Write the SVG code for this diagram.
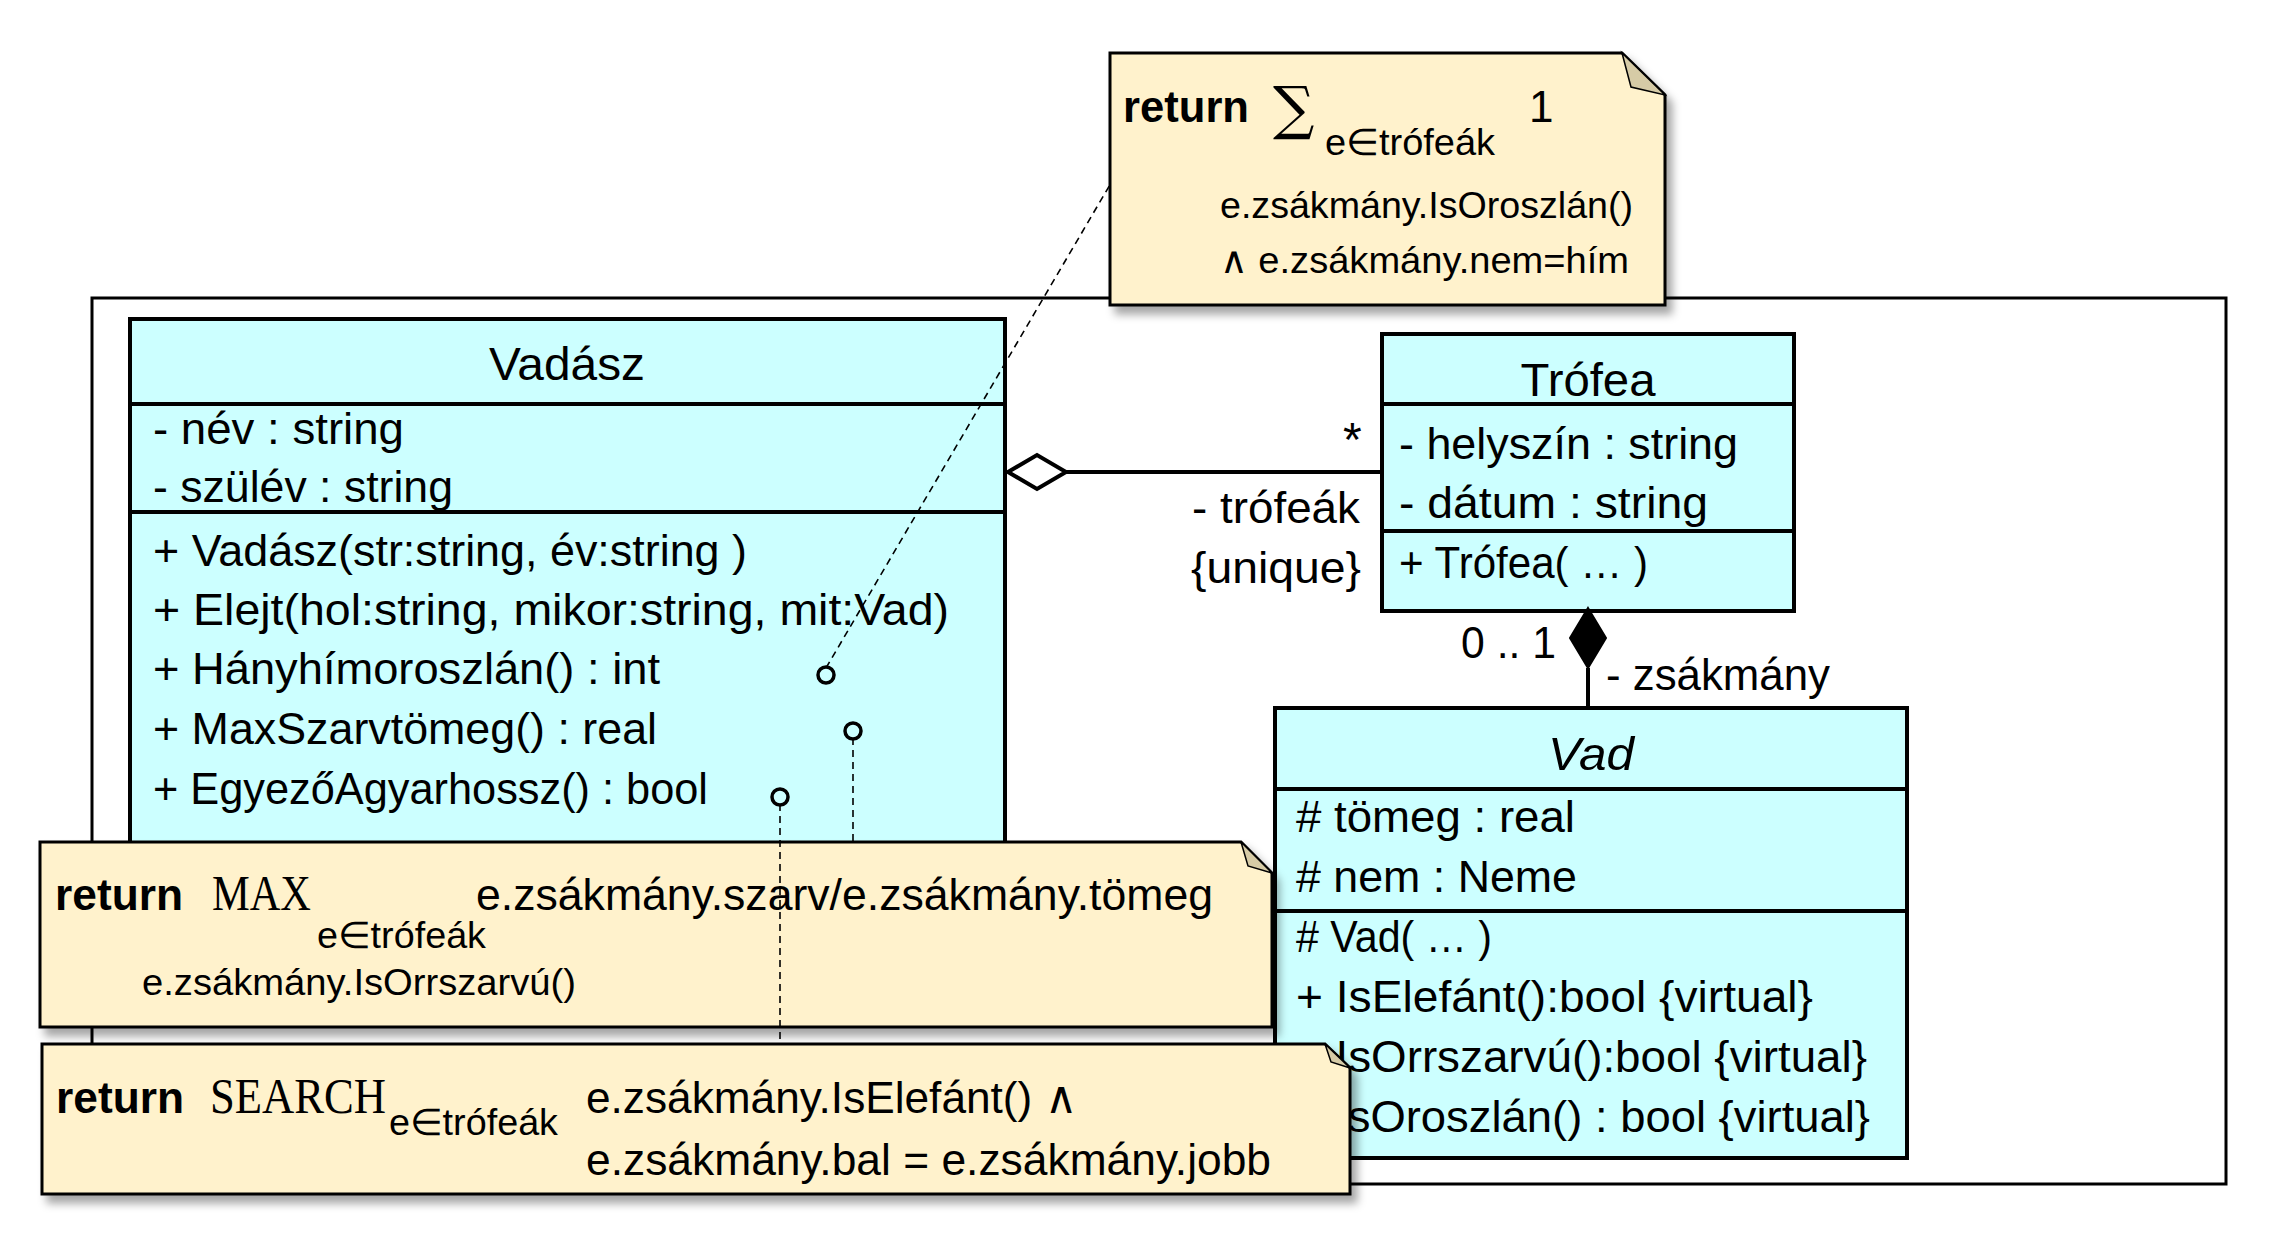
<svg xmlns="http://www.w3.org/2000/svg" width="2280" height="1242" viewBox="0 0 2280 1242">
<defs>
<filter id="sh" x="-5%" y="-10%" width="115%" height="130%">
<feDropShadow dx="6" dy="8" stdDeviation="4" flood-color="#000" flood-opacity="0.35"/>
</filter>
<style>
text{font-family:"Liberation Sans",Arial,sans-serif;font-size:45px;fill:#000}
.title{font-size:47px;text-anchor:middle}
.ser{font-family:"Liberation Serif","Times New Roman",serif;font-size:50px}
.b{font-weight:bold}
.sm{font-size:37px}
.cls{fill:#ccffff;stroke:#000;stroke-width:4}
.div{stroke:#000;stroke-width:4}
.note{fill:#fff2cc;stroke:#000;stroke-width:3;filter:url(#sh)}
.fold{fill:#d6cba6;stroke:#000;stroke-width:1.5}
.dash{stroke:#000;stroke-width:1.6;stroke-dasharray:7 5;fill:none}
.lol{fill:#ccffff;stroke:#000;stroke-width:3.5}
</style>
</defs>
<rect width="2280" height="1242" fill="#fff"/>
<rect id="frame" x="92" y="298" width="2134" height="886" fill="none" stroke="#000" stroke-width="3"/>

<g id="vadasz">
<rect class="cls" x="130" y="319" width="875" height="690"/>
<line class="div" x1="130" y1="404" x2="1005" y2="404"/>
<line class="div" x1="130" y1="512" x2="1005" y2="512"/>
<text class="title" x="567" y="380" textLength="156" lengthAdjust="spacingAndGlyphs">Vadász</text>
<text x="153" y="444" textLength="251" lengthAdjust="spacingAndGlyphs">- név : string</text>
<text x="153" y="502" textLength="300" lengthAdjust="spacingAndGlyphs">- szülév : string</text>
<text x="153" y="566" textLength="594" lengthAdjust="spacingAndGlyphs">+ Vadász(str:string, év:string )</text>
<text x="153" y="625" textLength="796" lengthAdjust="spacingAndGlyphs">+ Elejt(hol:string, mikor:string, mit:Vad)</text>
<text x="153" y="684" textLength="507" lengthAdjust="spacingAndGlyphs">+ Hányhímoroszlán() : int</text>
<text x="153" y="744" textLength="504" lengthAdjust="spacingAndGlyphs">+ MaxSzarvtömeg() : real</text>
<text x="153" y="804" textLength="555" lengthAdjust="spacingAndGlyphs">+ EgyezőAgyarhossz() : bool</text>
</g>

<g id="trofea">
<rect class="cls" x="1382" y="334" width="412" height="277"/>
<line class="div" x1="1382" y1="404" x2="1794" y2="404"/>
<line class="div" x1="1382" y1="531" x2="1794" y2="531"/>
<text class="title" x="1588" y="396" textLength="135" lengthAdjust="spacingAndGlyphs">Trófea</text>
<text x="1399" y="459" textLength="339" lengthAdjust="spacingAndGlyphs">- helyszín : string</text>
<text x="1399" y="518" textLength="309" lengthAdjust="spacingAndGlyphs">- dátum : string</text>
<text x="1399" y="578" textLength="249" lengthAdjust="spacingAndGlyphs">+ Trófea( … )</text>
</g>

<g id="vad">
<rect class="cls" x="1275" y="708" width="632" height="450"/>
<line class="div" x1="1275" y1="789" x2="1907" y2="789"/>
<line class="div" x1="1275" y1="911" x2="1907" y2="911"/>
<text class="title" x="1591" y="770" font-style="italic" textLength="86" lengthAdjust="spacingAndGlyphs">Vad</text>
<text x="1296" y="832" textLength="279" lengthAdjust="spacingAndGlyphs"># tömeg : real</text>
<text x="1296" y="892" textLength="281" lengthAdjust="spacingAndGlyphs"># nem : Neme</text>
<text x="1296" y="952" textLength="196" lengthAdjust="spacingAndGlyphs"># Vad( … )</text>
<text x="1296" y="1012" textLength="517" lengthAdjust="spacingAndGlyphs">+ IsElefánt():bool  {virtual}</text>
<text x="1296" y="1072" textLength="571" lengthAdjust="spacingAndGlyphs">+ IsOrrszarvú():bool  {virtual}</text>
<text x="1296" y="1132" textLength="574" lengthAdjust="spacingAndGlyphs">+ IsOroszlán() : bool {virtual}</text>
</g>

<g id="note-hany">
<path class="note" d="M1110,53 L1622,53 L1665,95 L1665,305 L1110,305 Z"/>
<path class="fold" d="M1622,53 L1631,87 L1665,95 Z"/>
<text class="b" x="1123" y="122" textLength="126" lengthAdjust="spacingAndGlyphs">return</text>
<text x="1273" y="128" style="font-family:'DejaVu Serif',serif;font-size:58px">∑</text>
<text class="sm" x="1325" y="155" textLength="170" lengthAdjust="spacingAndGlyphs">e∈trófeák</text>
<text x="1529" y="122" style="font-size:44px">1</text>
<text class="sm" x="1220" y="218" textLength="413" lengthAdjust="spacingAndGlyphs">e.zsákmány.IsOroszlán()</text>
<text class="sm" x="1220" y="273" textLength="409" lengthAdjust="spacingAndGlyphs">∧ e.zsákmány.nem=hím</text>
</g>

<g id="note-max">
<path class="note" d="M40,842 L1241,842 L1272,873 L1272,1027 L40,1027 Z"/>
<path class="fold" d="M1241,842 L1248,866 L1272,873 Z"/>
<text class="b" x="55" y="910" textLength="128" lengthAdjust="spacingAndGlyphs">return</text>
<text class="ser" x="212" y="910" textLength="99" lengthAdjust="spacingAndGlyphs">MAX</text>
<text class="sm" x="317" y="948" textLength="169" lengthAdjust="spacingAndGlyphs">e∈trófeák</text>
<text x="476" y="910" textLength="737" lengthAdjust="spacingAndGlyphs">e.zsákmány.szarv/e.zsákmány.tömeg</text>
<text class="sm" x="142" y="995" textLength="434" lengthAdjust="spacingAndGlyphs">e.zsákmány.IsOrrszarvú()</text>
</g>

<g id="connectors">
<line x1="1066" y1="472" x2="1382" y2="472" stroke="#000" stroke-width="4"/>
<path d="M1008,472 L1037,455 L1066,472 L1037,489 Z" fill="#fff" stroke="#000" stroke-width="4"/>
<line x1="1588" y1="668" x2="1588" y2="708" stroke="#000" stroke-width="4"/>
<path d="M1588,608 L1606,638 L1588,668 L1570,638 Z" fill="#000" stroke="#000" stroke-width="2"/>
<text x="1343" y="456" style="font-size:48px">*</text>
<text x="1192" y="523" textLength="168" lengthAdjust="spacingAndGlyphs">- trófeák</text>
<text x="1191" y="583" textLength="170" lengthAdjust="spacingAndGlyphs">{unique}</text>
<text x="1461" y="658" textLength="95" lengthAdjust="spacingAndGlyphs">0 .. 1</text>
<text x="1606" y="690" textLength="224" lengthAdjust="spacingAndGlyphs">- zsákmány</text>
<line class="dash" x1="826" y1="668" x2="1111" y2="183"/>
<line class="dash" x1="853" y1="738" x2="853" y2="842"/>
<line class="dash" x1="780" y1="804" x2="780" y2="1044"/>
<circle class="lol" cx="826" cy="675" r="8"/>
<circle class="lol" cx="853" cy="731" r="8"/>
<circle class="lol" cx="780" cy="797" r="8"/>
</g>

<g id="note-search">
<path class="note" d="M42,1044 L1325,1044 L1350,1068 L1350,1194 L42,1194 Z"/>
<path class="fold" d="M1325,1044 L1331,1062 L1350,1068 Z"/>
<text class="b" x="56" y="1113" textLength="128" lengthAdjust="spacingAndGlyphs">return</text>
<text class="ser" x="210" y="1113" textLength="176" lengthAdjust="spacingAndGlyphs">SEARCH</text>
<text class="sm" x="389" y="1135" textLength="169" lengthAdjust="spacingAndGlyphs">e∈trófeák</text>
<text x="586" y="1113" textLength="491" lengthAdjust="spacingAndGlyphs">e.zsákmány.IsElefánt() ∧</text>
<text x="586" y="1175" textLength="685" lengthAdjust="spacingAndGlyphs">e.zsákmány.bal = e.zsákmány.jobb</text>
</g>
</svg>
